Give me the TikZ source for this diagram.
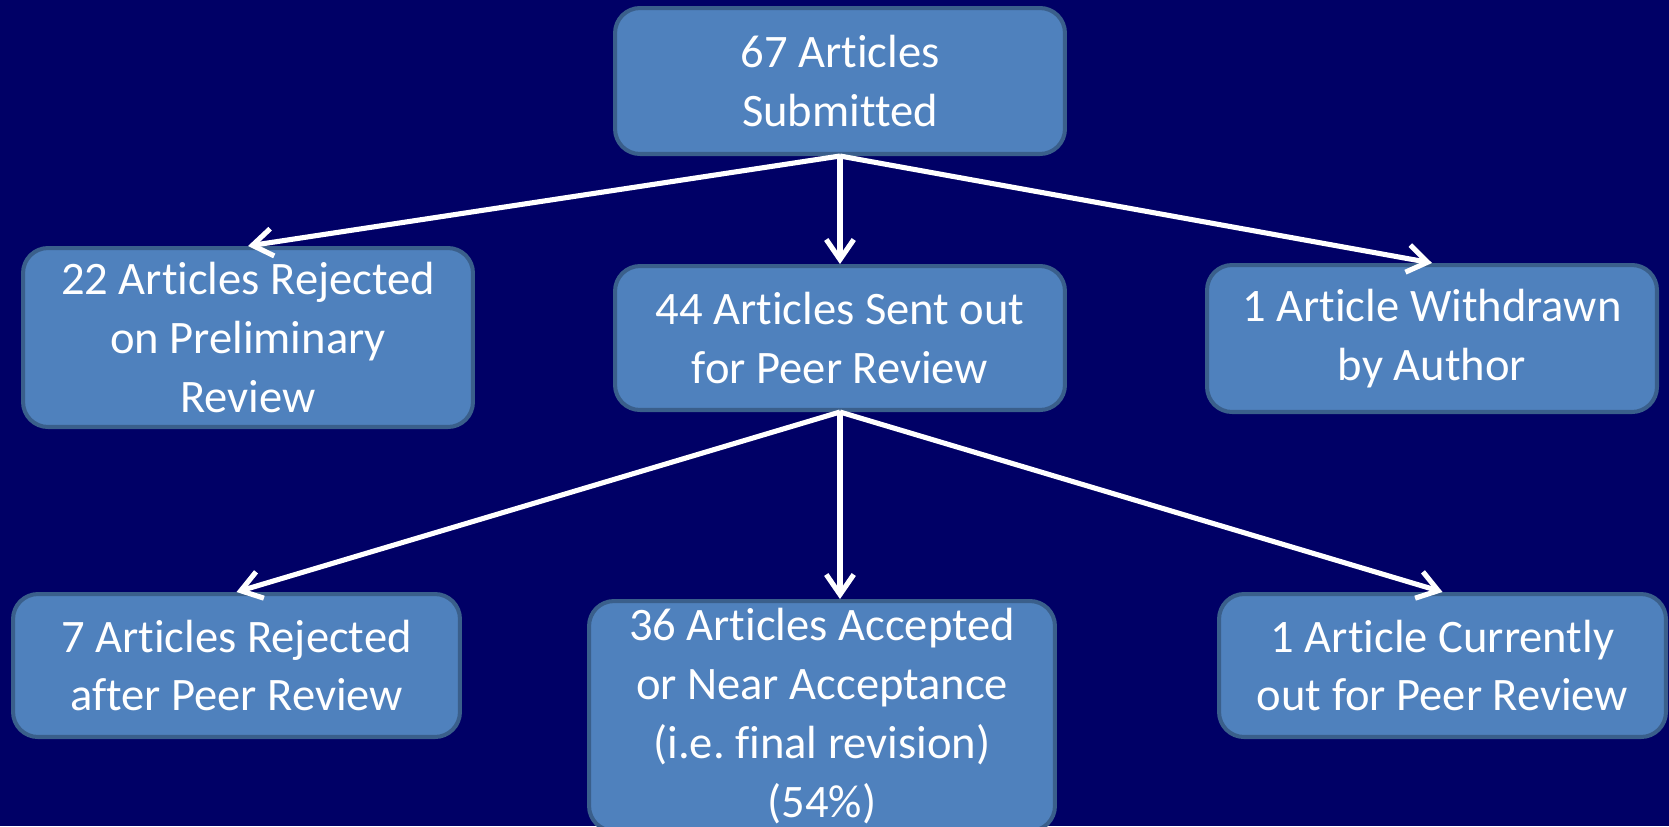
\documentclass[tikz,border=0pt]{standalone}
\usepackage{fontspec}
\setmainfont{Carlito}[Ligatures=NoCommon]
\usetikzlibrary{arrows.meta}
\definecolor{bgnavy}{HTML}{000066}
\definecolor{boxblue}{HTML}{4F81BD}
\definecolor{boxedge}{HTML}{3A5F8B}

\begin{document}
\begin{tikzpicture}[x=0.02cm, y=-0.02cm,
    stage/.style = {draw=boxedge, line width=2.3pt, fill=boxblue, rounded corners=0.5cm, text=white, align=center, inner sep=2pt, font=\fontsize{26.5}{33.5}\selectfont},
    flow/.style = {draw=white, line width=2.9pt, -{Straight Barb[length=0.4cm, width=0.55cm]}}]
    \fill[bgnavy] (0,0) rectangle (1669,826);
    \useasboundingbox (0,0) rectangle (1669,826);

    \node[stage, minimum width=9cm, minimum height=2.92cm] (submitted) at (840,81) {67 Articles\\Submitted};

    \node[stage, minimum width=9cm, minimum height=3.58cm] (prelim) at (248,337.5) {22 Articles Rejected\\on Preliminary\\Review};
    \node[stage, minimum width=9cm, minimum height=2.88cm] (peer) at (840,338) {44 Articles Sent out\\for Peer Review};
    \node[stage, minimum width=9cm, minimum height=2.94cm] (withdrawn) at (1432,338.5) {1 Article Withdrawn\\by Author};

    \node[stage, minimum width=8.94cm, minimum height=2.86cm] (rejected) at (236.5,665.5) {7 Articles Rejected\\after Peer Review};
    \node[stage, minimum width=9.32cm, minimum height=4.6cm] (accepted) at (822,716) {36 Articles Accepted\\or Near Acceptance\\(i.e.\ final revision)\\(54\%)};
    \node[stage, minimum width=8.94cm, minimum height=2.86cm] (current) at (1442.5,665.5) {1 Article Currently\\out for Peer Review};

    \draw[flow] (submitted.south) -- (prelim.north);
    \draw[flow] (submitted.south) -- (peer.north);
    \draw[flow] (submitted.south) -- (withdrawn.north);

    \draw[flow] (peer.south) -- (rejected.north);
    \draw[flow] (peer.south) -- (peer.south |- accepted.north);
    \draw[flow] (peer.south) -- (current.north);
\end{tikzpicture}
\end{document}
